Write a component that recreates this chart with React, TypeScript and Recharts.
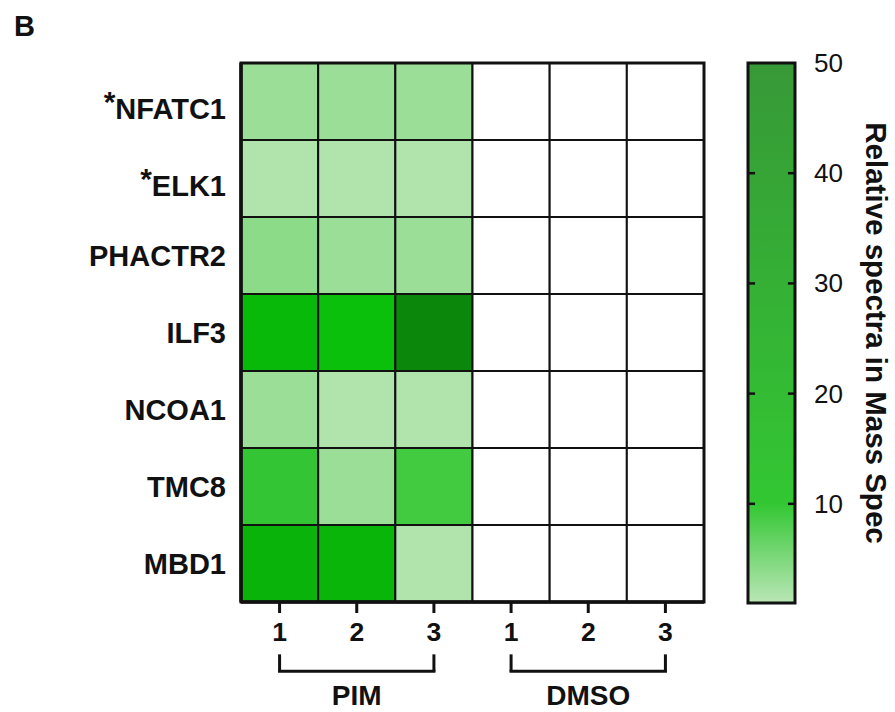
import React from 'react';
import { ComposedChart, XAxis, YAxis, ReferenceArea, ReferenceLine } from 'recharts';

const genes = ['NFATC1', 'ELK1', 'PHACTR2', 'ILF3', 'NCOA1', 'TMC8', 'MBD1'];
const starred = ['NFATC1', 'ELK1'];
const columnLabels = ['1', '2', '3', '1', '2', '3'];
const groups = ['PIM', 'DMSO'];

// relative spectra per gene, columns PIM1..3, DMSO1..3 (0 = not detected)
const NFATC1 = [3, 3, 3, 0, 0, 0];
const ELK1 = [1.5, 1.5, 1.5, 0, 0, 0];
const PHACTR2 = [4, 3, 3, 0, 0, 0];
const ILF3 = [60, 56, 90, 0, 0, 0];
const NCOA1 = [3, 1.5, 1.5, 0, 0, 0];
const TMC8 = [12, 3, 9, 0, 0, 0];
const MBD1 = [63, 62, 1.5, 0, 0, 0];
const values = [NFATC1, ELK1, PHACTR2, ILF3, NCOA1, TMC8, MBD1];

const colorbarTicks = [10, 20, 30, 40, 50];
const colorMin = 1;
const colorMax = 50;

// color stops (value -> rgb)
const stops: [number, number[]][] = [
  [1, [184, 229, 180]],
  [10, [51, 199, 51]],
  [50, [55, 153, 55]],
];
const overStops: [number, number[]][] = [
  [55, [10, 194, 10]],
  [62, [9, 181, 9]],
  [90, [11, 135, 11]],
];

function interp(v: number, s: [number, number[]][]) {
  if (v <= s[0][0]) return s[0][1];
  for (let i = 0; i < s.length - 1; i++) {
    const [a, ca] = s[i];
    const [b, cb] = s[i + 1];
    if (v <= b) {
      const t = (v - a) / (b - a);
      return ca.map((c, k) => Math.round(c + (cb[k] - c) * t));
    }
  }
  return s[s.length - 1][1];
}

function colorFor(v: number) {
  if (v <= 0) return '#ffffff';
  const c = v > colorMax ? interp(v, overStops) : interp(v, stops);
  return `rgb(${c[0]},${c[1]},${c[2]})`;
}

const FONT = 'Liberation Sans, Arial, sans-serif';

const RowTick = (props: any) => {
  const { x, y, payload } = props;
  const name = genes[Math.floor(payload.value)];
  const star = starred.includes(name);
  if (star) {
    return (
      <text x={x - 7} y={y} textAnchor="end" fontFamily={FONT} fontWeight="bold" fontSize={29} fill="#111">
        <tspan fontSize={30} dy={10}>*</tspan>
        <tspan dy={7}>{name}</tspan>
      </text>
    );
  }
  return (
    <text x={x - 7} y={y} dy={10} textAnchor="end" fontFamily={FONT} fontWeight="bold" fontSize={29} fill="#111">
      {name}
    </text>
  );
};

const ColTick = (props: any) => {
  const { x, y, payload } = props;
  return (
    <text x={x} y={y} dy={28} textAnchor="middle" fontFamily={FONT} fontWeight="bold" fontSize={26.5} fill="#111">
      {columnLabels[Math.floor(payload.value)]}
    </text>
  );
};

const CbTick = (props: any) => {
  const { x, y, payload } = props;
  return (
    <text x={x + 19} y={y} dy={9} textAnchor="start" fontFamily={FONT} fontSize={26} fill="#111">
      {payload.value}
    </text>
  );
};

const CbLabel = (props: any) => {
  const vb = props.viewBox || {};
  const cx = vb.x + 81;
  const cy = vb.y + vb.height / 2;
  return (
    <text
      transform={`translate(${cx},${cy}) rotate(90)`}
      textAnchor="middle"
      dominantBaseline="central"
      fontFamily={FONT}
      fontWeight="bold"
      fontSize={29.5}
      fill="#111"
    >
      Relative spectra in Mass Spec
    </text>
  );
};

export default function App() {
  const cells: React.ReactNode[] = [];
  values.forEach((row, r) => {
    row.forEach((v, c) => {
      cells.push(
        <ReferenceArea
          key={`c-${r}-${c}`}
          x1={c}
          x2={c + 1}
          y1={r}
          y2={r + 1}
          fill={colorFor(v)}
          fillOpacity={1}
          stroke="#111"
          strokeWidth={2}
          ifOverflow="visible"
        />
      );
    });
  });

  const brackets: React.ReactNode[] = [];
  groups.forEach((g, gi) => {
    const a = gi * 3 + 0.5;
    const b = gi * 3 + 2.5;
    const yTop = 7.68;
    const yBot = 7.9;
    brackets.push(
      <ReferenceLine key={`bl-${gi}`} segment={[{ x: a, y: yTop }, { x: a, y: yBot }]} stroke="#111" strokeWidth={3} ifOverflow="visible" />,
      <ReferenceLine key={`br-${gi}`} segment={[{ x: b, y: yTop }, { x: b, y: yBot }]} stroke="#111" strokeWidth={3} ifOverflow="visible" />,
      <ReferenceLine
        key={`bh-${gi}`}
        segment={[{ x: a - 0.02, y: yBot }, { x: b + 0.02, y: yBot }]}
        stroke="#111"
        strokeWidth={3}
        ifOverflow="visible"
        label={(p: any) => {
          const vb = p.viewBox || {};
          const x1 = vb.x ?? 0;
          const w = vb.width ?? 0;
          const y = vb.y ?? 0;
          return (
            <text x={x1 + w / 2} y={y + 34} textAnchor="middle" fontFamily={FONT} fontWeight="bold" fontSize={28} fill="#111">
              {g}
            </text>
          );
        }}
      />
    );
  });

  const cbTickMarks: React.ReactNode[] = [];
  colorbarTicks
    .filter((t) => t < colorMax)
    .forEach((t) => {
      cbTickMarks.push(
        <ReferenceLine key={`tl-${t}`} segment={[{ x: 0, y: t }, { x: 0.15, y: t }]} stroke="#111" strokeWidth={2.5} ifOverflow="visible" />,
        <ReferenceLine key={`tr-${t}`} segment={[{ x: 0.85, y: t }, { x: 1, y: t }]} stroke="#111" strokeWidth={2.5} ifOverflow="visible" />
      );
    });

  return (
    <div style={{ position: 'absolute', left: 0, top: 0, width: 895, height: 712, background: '#fff' }}>
      <svg width={1} height={1} style={{ position: 'absolute', left: 0, top: 0 }}>
        <defs>
          <linearGradient id="cbGrad" x1="0" y1="0" x2="0" y2="1">
            <stop offset="0" stopColor="rgb(55,153,55)" />
            <stop offset={(colorMax - 10) / (colorMax - colorMin)} stopColor="rgb(51,199,51)" />
            <stop offset="1" stopColor="rgb(186,230,182)" />
          </linearGradient>
        </defs>
      </svg>
      <svg width={60} height={50} style={{ position: 'absolute', left: 0, top: 0 }}>
        <text x={14} y={35.5} fontFamily={FONT} fontWeight="bold" fontSize={29} fill="#111">
          B
        </text>
      </svg>
      <div style={{ position: 'absolute', left: 0, top: 0 }}>
        <ComposedChart width={895} height={712} margin={{ top: 63, right: 191, bottom: 0, left: 0 }}>
          <XAxis
            type="number"
            dataKey="x"
            domain={[0, 6]}
            ticks={[0.5, 1.5, 2.5, 3.5, 4.5, 5.5]}
            interval={0}
            height={110}
            axisLine={{ stroke: '#111', strokeWidth: 3.5 }}
            tickLine={{ stroke: '#111', strokeWidth: 3 }}
            tickSize={11}
            tickMargin={0}
            tick={<ColTick />}
            allowDataOverflow
          />
          <YAxis
            type="number"
            dataKey="y"
            domain={[0, 7]}
            reversed
            ticks={[0.5, 1.5, 2.5, 3.5, 4.5, 5.5, 6.5]}
            interval={0}
            width={241}
            axisLine={{ stroke: '#111', strokeWidth: 3.5 }}
            tickLine={false}
            tick={<RowTick />}
            allowDataOverflow
          />
          {cells}
          <ReferenceArea x1={0} x2={6} y1={0} y2={7} fill="none" stroke="#111" strokeWidth={3} ifOverflow="visible" />
          {brackets}
        </ComposedChart>
      </div>
      <div style={{ position: 'absolute', left: 0, top: 0, pointerEvents: 'none' }}>
        <ComposedChart width={895} height={712} margin={{ top: 63, right: 0, bottom: 109, left: 748 }}>
          <XAxis
            type="number"
            dataKey="x"
            domain={[0, 1]}
            ticks={[0, 1]}
            height={0}
            axisLine={false}
            tickLine={false}
            tick={false}
            allowDataOverflow
          />
          <YAxis
            type="number"
            dataKey="y"
            orientation="right"
            domain={[colorMin, colorMax]}
            ticks={colorbarTicks}
            interval={0}
            width={100}
            axisLine={false}
            tickLine={false}
            tickSize={0}
            tickMargin={0}
            tick={<CbTick />}
            label={<CbLabel />}
            allowDataOverflow
          />
          <ReferenceArea x1={0} x2={1} y1={colorMin} y2={colorMax} fill="url(#cbGrad)" fillOpacity={1} stroke="#111" strokeWidth={3} ifOverflow="visible" />
          {cbTickMarks}
        </ComposedChart>
      </div>
    </div>
  );
}
